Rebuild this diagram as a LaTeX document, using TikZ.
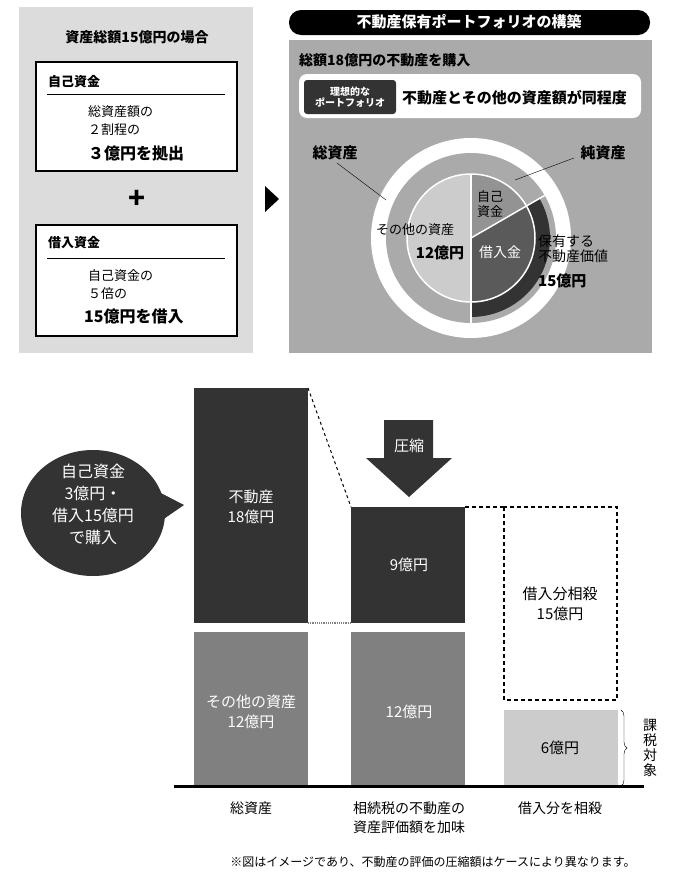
\documentclass[tikz,border=0pt]{standalone}
\usepackage{fontspec}
\setmainfont{Noto Sans CJK JP}
\usetikzlibrary{calc,decorations.pathreplacing,shapes.geometric}
\definecolor{panelL}{HTML}{DCDCDC}
\definecolor{panelR}{HTML}{AAAAAA}
\definecolor{darkbar}{HTML}{333333}
\definecolor{midbar}{HTML}{808080}
\definecolor{lightbar}{HTML}{CCCCCC}
\tikzset{
  txt/.style={inner sep=0pt, font=\fontsize{13}{15}\selectfont},
  bigtxt/.style={inner sep=0pt, font=\fontsize{16}{18}\selectfont\bfseries},
  bartxt/.style={inner sep=0pt, align=center, text=white, font=\fontsize{15}{20}\selectfont},
  labtxt/.style={inner sep=0pt, align=center, font=\fontsize{14}{19}\selectfont},
  infobox/.style={draw=black, line width=1.5pt, fill=white},
  dashline/.style={line width=1.3pt, dash pattern=on 4pt off 3pt},
}
\begin{document}
\begin{tikzpicture}[x=1pt,y=1pt]
\useasboundingbox (0,0) rectangle (700,-889);
\fill[white] (0,0) rectangle (700,-889);

% left panel
\fill[panelL] (19,-7) rectangle (253,-353);
\node[txt, font=\fontsize{14}{15}\selectfont\bfseries] (ltitle) at (137,-37) {資産総額15億円の場合};
\draw[infobox] (36,-62) rectangle (237,-171);
\node[txt, anchor=west, font=\fontsize{13}{15}\selectfont\bfseries] (own) at (48,-82) {自己資金};
\draw (47,-94) -- (225,-94);
\node[txt, anchor=west] (own1) at (88,-112) {総資産額の};
\node[txt, anchor=west] (own2) at (88,-130) {２割程の};
\node[bigtxt, anchor=west] (own3) at (88,-153) {３億円を拠出};
\node[inner sep=0pt, font=\fontsize{28}{28}\selectfont\bfseries] (plus) at (137,-199) {+};
\draw[infobox] (36,-225) rectangle (237,-336);
\node[txt, anchor=west, font=\fontsize{13}{15}\selectfont\bfseries] (loan) at (48,-243) {借入資金};
\draw (47,-258) -- (225,-258);
\node[txt, anchor=west] (loan1) at (88,-276) {自己資金の};
\node[txt, anchor=west] (loan2) at (88,-294) {５倍の};
\node[bigtxt, anchor=west] (loan3) at (84,-316) {15億円を借入};
\fill (265,-186) -- (279,-199) -- (265,-212) -- cycle;

% right panel
\fill[black, rounded corners=12pt] (289,-10) rectangle (650,-35);
\node[txt, text=white, font=\fontsize{15}{16}\selectfont\bfseries] (rtitle) at (469,-22) {不動産保有ポートフォリオの構築};
\fill[panelR] (289,-40) rectangle (652,-353);
\node[txt, anchor=west, font=\fontsize{14}{15}\selectfont\bfseries] (buy) at (299,-60) {総額18億円の不動産を購入};
\fill[white, rounded corners=8pt] (299,-74) rectangle (641,-118);
\fill[darkbar, rounded corners=3pt] (304,-80) rectangle (396,-114);
\node[txt, text=white, align=center, font=\fontsize{10}{11}\selectfont\bfseries] (ideal) at (350,-97) {理想的な\\ポートフォリオ};
\node[txt, anchor=west, font=\fontsize{15}{16}\selectfont\bfseries] (same) at (402,-98) {不動産とその他の資産額が同程度};

% pie
\coordinate (c) at (471,-238);
\fill[white] (c) circle (100);
\fill[panelR] (c) circle (85);
\fill[darkbar] ($(c)+(30:79)$) arc (30:-90:79) -- ($(c)+(-90:64)$) arc (-90:30:64) -- cycle;
\fill[lightbar] ($(c)+(90:64)$) arc (90:270:64) -- cycle;
\fill[midbar!85!white] (c) -- ($(c)+(90:64)$) arc (90:30:64) -- cycle;
\fill[midbar!70!black] (c) -- ($(c)+(30:64)$) arc (30:-90:64) -- cycle;
\draw[white, line width=1.5pt] (c) circle (64);
\draw[white, line width=1.5pt] ($(c)+(90:64)$) -- ($(c)+(-90:85)$);
\draw[white, line width=1.5pt] (c) -- ($(c)+(30:85)$);
\node[txt, font=\fontsize{15}{16}\selectfont\bfseries] (total) at (335,-153) {総資産};
\node[txt, font=\fontsize{15}{16}\selectfont\bfseries] (net) at (603,-153) {純資産};
\coordinate (totalend) at (386,-200);
\coordinate (netend) at (515,-180);
\draw (337,-163) -- (totalend);
\draw (574,-158) -- (netend);
\node[txt, align=left, font=\fontsize{13}{15}\selectfont] (ownpie) at (490,-204) {自己\\資金};
\node[txt, font=\fontsize{13}{15}\selectfont] (other) at (415,-230) {その他の資産};
\node[txt, font=\fontsize{15}{16}\selectfont\bfseries] (other2) at (440,-253) {12億円};
\node[txt, text=white, font=\fontsize{14}{15}\selectfont] (loanpie) at (500,-252) {借入金};
\node[txt, align=left, anchor=west, font=\fontsize{14}{15}\selectfont] (hold) at (538,-249) {保有する\\不動産価値};
\node[txt, anchor=west, font=\fontsize{15}{16}\selectfont\bfseries] (hold2) at (538,-281) {15億円};

% bottom chart
\node[ellipse, fill=darkbar, minimum width=144pt, minimum height=126pt, inner sep=0pt] (bubble) at (93,-513) {};
\fill[darkbar] (155,-490) -- (184,-505) -- (155,-525) -- cycle;
\node[bartxt, font=\fontsize{16}{22}\selectfont] (bubbletxt) at (93,-504) {自己資金\\3億円・\\借入15億円\\で購入};

\fill[darkbar] (194,-388) rectangle (308,-623);
\fill[midbar] (194,-632) rectangle (308,-786);
\fill[darkbar] (351,-507) rectangle (465,-623);
\fill[midbar] (351,-632) rectangle (465,-786);
\draw[dashline] (504,-507) rectangle (617,-700);
\fill[lightbar] (504,-710) rectangle (618,-786);
\draw[dashed, line width=1pt] (308,-388) -- (351,-507);
\draw[densely dotted, line width=1.2pt, gray] (308,-623) -- (351,-623);
\draw[dashline] (465,-507) -- (504,-507);
\draw[line width=3pt] (174,-786) -- (644,-786);

\fill[darkbar] (384,-420) -- (433,-420) -- (433,-458) -- (452,-458) -- (409,-497) -- (366,-458) -- (384,-458) -- cycle;
\node[bartxt] (press) at (409,-446) {圧縮};

\node[bartxt] (re) at (251,-507) {不動産\\18億円};
\node[bartxt] (other3) at (251,-712) {その他の資産\\12億円};
\node[bartxt] (re9) at (409,-565) {9億円};
\node[bartxt] (other4) at (409,-712) {12億円};
\node[bartxt, text=black] (offset) at (560,-604) {借入分相殺\\15億円};
\node[bartxt, text=black] (six) at (560,-748) {6億円};
\draw[decorate, decoration={brace, amplitude=6pt}] (621,-710) -- (621,-786);
\node[labtxt, font=\fontsize{14}{15}\selectfont] (tax) at (650,-748) {課\\税\\対\\象};

\node[labtxt] (lab1) at (251,-808) {総資産};
\node[labtxt] (lab2) at (409,-818) {相続税の不動産の\\資産評価額を加味};
\node[labtxt] (lab3) at (560,-808) {借入分を相殺};
\node[txt, font=\fontsize{12}{13}\selectfont] (note) at (433,-862) {※図はイメージであり、不動産の評価の圧縮額はケースにより異なります。};
\end{tikzpicture}
\end{document}
